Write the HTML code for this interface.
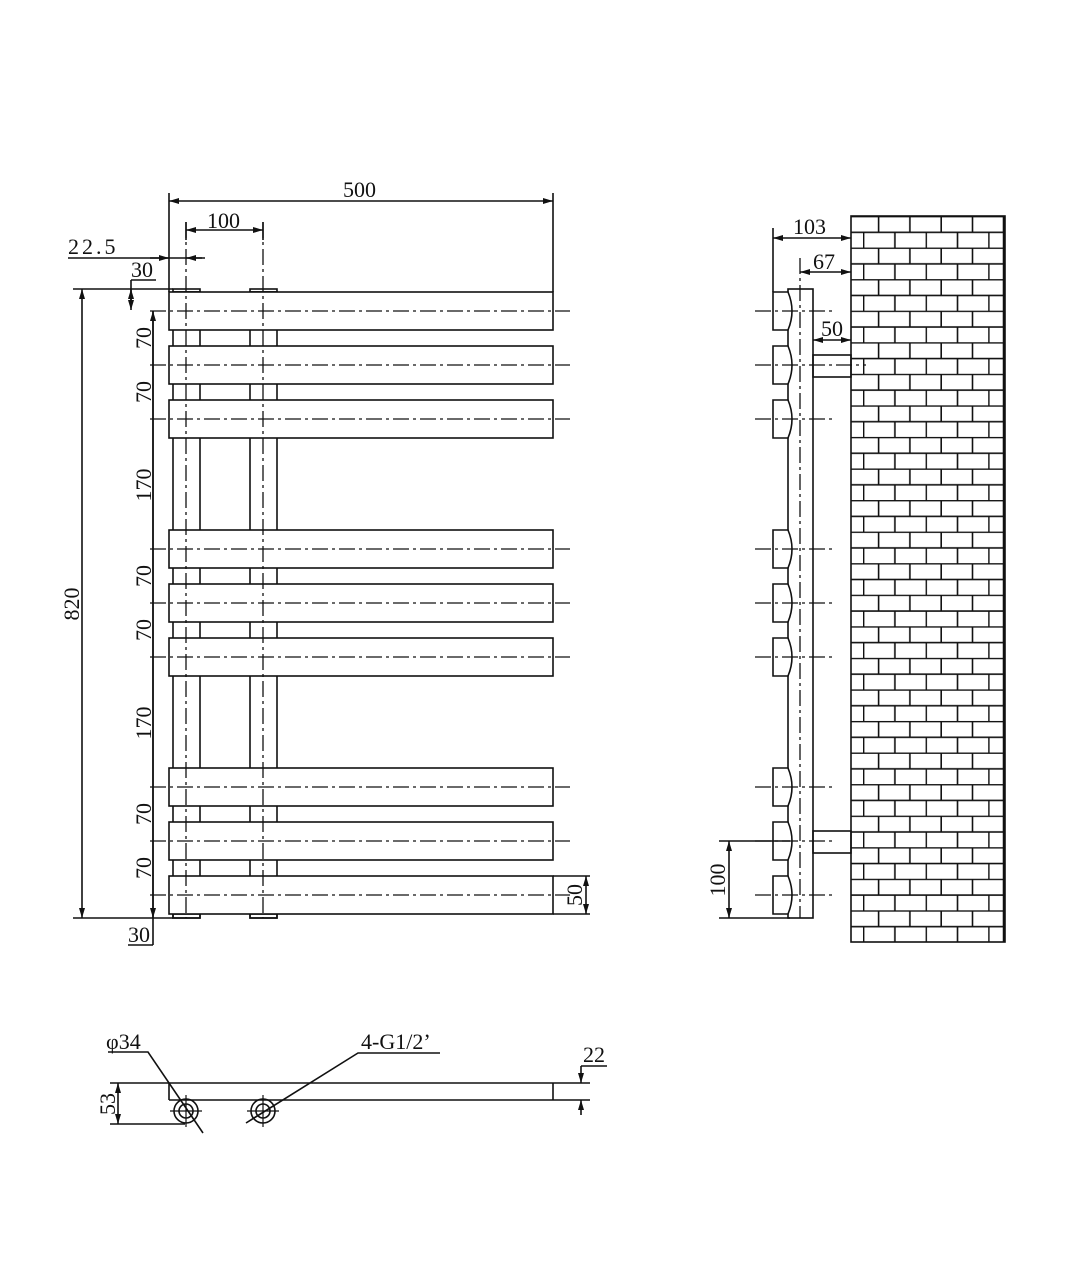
<!DOCTYPE html>
<html><head><meta charset="utf-8"><style>html,body{margin:0;padding:0;background:#fff}svg{display:block}text{font-family:"Liberation Serif","Noto Serif CJK SC",serif;font-size:22px;fill:#111}</style></head>
<body>
<svg width="1080" height="1280" viewBox="0 0 1080 1280" xmlns="http://www.w3.org/2000/svg">
<defs>
<marker id="a" viewBox="0 0 10 6" refX="10" refY="3" markerWidth="10" markerHeight="6" orient="auto-start-reverse" markerUnits="userSpaceOnUse"><path d="M0,0L10,3L0,6z" fill="#111"/></marker>
<pattern id="br" patternUnits="userSpaceOnUse" x="863" y="216" width="62.6" height="31.56">
<path d="M0,0.5H62.6M0,16.28H62.6M15.6,0V15.78M46.9,0V15.78M0.6,15.78V31.56M31.9,15.78V31.56" stroke="#111" stroke-width="1.6" fill="none"/>
</pattern>
</defs>
<g stroke="#111" stroke-width="1.6" fill="none">
<rect x="173" y="292" width="27" height="626"/>
<rect x="250" y="292" width="27" height="626"/>
<rect x="173" y="289" width="27" height="3"/>
<rect x="250" y="289" width="27" height="3"/>
<rect x="173" y="914" width="27" height="4"/>
<rect x="250" y="914" width="27" height="4"/>
<g fill="#fff">
<rect x="169" y="292" width="384" height="38"/>
<rect x="169" y="346" width="384" height="38"/>
<rect x="169" y="400" width="384" height="38"/>
<rect x="169" y="530" width="384" height="38"/>
<rect x="169" y="584" width="384" height="38"/>
<rect x="169" y="638" width="384" height="38"/>
<rect x="169" y="768" width="384" height="38"/>
<rect x="169" y="822" width="384" height="38"/>
<rect x="169" y="876" width="384" height="38"/>
</g>
<g stroke-dasharray="16,4,3,4" stroke-width="1.3">
<path d="M150,311H570M150,365H570M150,419H570M150,549H570M150,603H570M150,657H570M150,787H570M150,841H570M150,895H570"/>
<path d="M186,222V918M263,222V918"/>
</g>
<path d="M169,193V292M553,193V292M186,222V240M263,222V240"/>
<path d="M169,201H553" marker-start="url(#a)" marker-end="url(#a)"/>
<path d="M186,230H263" marker-start="url(#a)" marker-end="url(#a)"/>
<path d="M68,258H169M169,258H186M186,258H202"/>
<path d="M150,258H169" marker-end="url(#a)"/>
<path d="M205,258H186" marker-end="url(#a)"/>
<path d="M131,280H156"/>
<path d="M131,280V310" marker-end="url(#a)"/>
<path d="M131,300V289" marker-end="url(#a)"/>
<path d="M73,289H173M73,918H173"/>
<path d="M82,289V918" marker-start="url(#a)" marker-end="url(#a)"/>
<path d="M153,311V945M128,945H153"/>
<path d="M153,311V365M153,365V419M153,419V549M153,549V603M153,603V657M153,657V787M153,787V841M153,841V895M153,895V918" marker-start="url(#a)" marker-end="url(#a)"/>
<path d="M553,876H590M553,914H590"/>
<path d="M586,876V914" marker-start="url(#a)" marker-end="url(#a)"/>
<rect x="851" y="216" width="154" height="726" fill="url(#br)"/>
<path d="M1004,216V942" stroke-width="2.5"/>
<rect x="788" y="289" width="25" height="629"/>
<g fill="#fff">
<path d="M773,292H788Q796,311 788,330H773Z"/>
<path d="M773,346H788Q796,365 788,384H773Z"/>
<path d="M773,400H788Q796,419 788,438H773Z"/>
<path d="M773,530H788Q796,549 788,568H773Z"/>
<path d="M773,584H788Q796,603 788,622H773Z"/>
<path d="M773,638H788Q796,657 788,676H773Z"/>
<path d="M773,768H788Q796,787 788,806H773Z"/>
<path d="M773,822H788Q796,841 788,860H773Z"/>
<path d="M773,876H788Q796,895 788,914H773Z"/>
</g>
<rect x="813" y="355" width="38" height="22"/>
<rect x="813" y="831" width="38" height="22"/>
<g stroke-dasharray="16,4,3,4" stroke-width="1.3">
<path d="M755,311H833M755,365H866M755,419H833M755,549H833M755,603H833M755,657H833M755,787H833M755,841H833M755,895H833"/>
<path d="M800,258V918"/>
</g>
<path d="M773,228V292"/>
<path d="M773,238H851" marker-start="url(#a)" marker-end="url(#a)"/>
<path d="M800,272H851" marker-start="url(#a)" marker-end="url(#a)"/>
<path d="M813,340H851" marker-start="url(#a)" marker-end="url(#a)"/>
<path d="M719,841H790M719,918H790"/>
<path d="M729,841V918" marker-start="url(#a)" marker-end="url(#a)"/>
<path d="M110,1083H590M169,1100H590M169,1083V1100M553,1083V1100"/>
<path d="M110,1124H185"/>
<path d="M118,1083V1124" marker-start="url(#a)" marker-end="url(#a)"/>
<circle cx="186" cy="1111" r="12"/><circle cx="186" cy="1111" r="7"/>
<circle cx="263" cy="1111" r="12"/><circle cx="263" cy="1111" r="7"/>
<path d="M170,1111H202M186,1095V1127M247,1111H279M263,1095V1127" stroke-width="1.2"/>
<path d="M108,1052H148L203,1133"/>
<path d="M440,1053H358L246,1123"/>
<path d="M581,1066H607"/>
<path d="M581,1066V1083" marker-end="url(#a)"/>
<path d="M581,1115V1100" marker-end="url(#a)"/>
</g>
<text x="343" y="197">500</text>
<text x="207" y="228">100</text>
<text x="68" y="254" letter-spacing="3">22.5</text>
<text x="131" y="277">30</text>
<text x="128" y="942">30</text>
<text transform="translate(79,604) rotate(-90)" text-anchor="middle">820</text>
<g text-anchor="middle">
<text transform="translate(151,338) rotate(-90)">70</text>
<text transform="translate(151,392) rotate(-90)">70</text>
<text transform="translate(151,485) rotate(-90)">170</text>
<text transform="translate(151,576) rotate(-90)">70</text>
<text transform="translate(151,630) rotate(-90)">70</text>
<text transform="translate(151,723) rotate(-90)">170</text>
<text transform="translate(151,814) rotate(-90)">70</text>
<text transform="translate(151,868) rotate(-90)">70</text>
<text transform="translate(582,895) rotate(-90)">50</text>
<text transform="translate(725,880) rotate(-90)">100</text>
<text transform="translate(115,1104) rotate(-90)">53</text>
</g>
<text x="793" y="234">103</text>
<text x="813" y="269">67</text>
<text x="821" y="336">50</text>
<text x="106" y="1049">φ34</text>
<text x="361" y="1049">4-G1/2’</text>
<text x="583" y="1062">22</text>
</svg>
</body></html>
